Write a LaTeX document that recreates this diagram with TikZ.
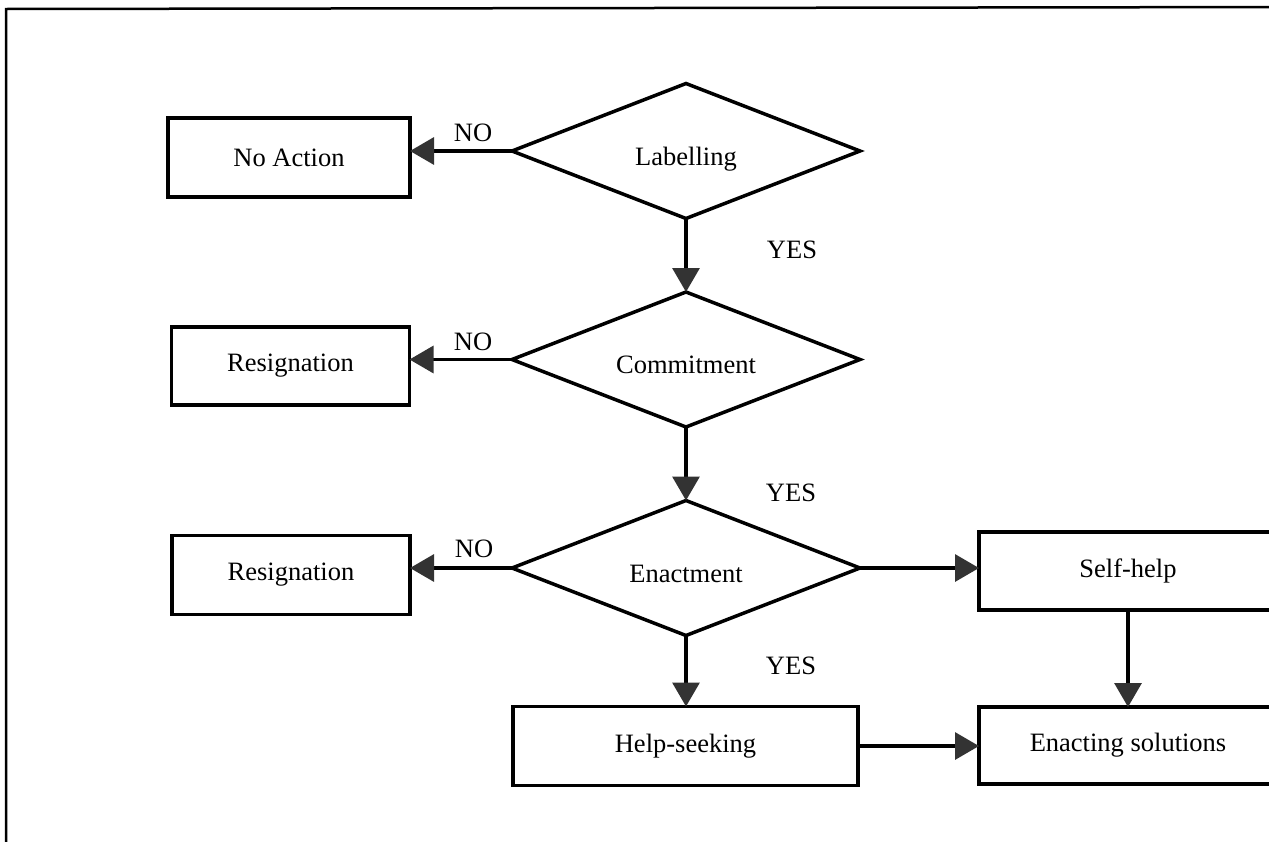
\documentclass[tikz,border=0pt]{standalone}
\usepackage{fontspec}
\setmainfont{Liberation Serif}
\usetikzlibrary{shapes.geometric,arrows.meta}
\begin{document}
\begin{tikzpicture}[x=1pt,y=-1pt,
  txt/.style={font=\fontsize{26.5}{30}\selectfont},
  box/.style={txt, draw, line width=3.5pt, minimum height=79pt, inner sep=0pt, outer sep=0pt},
  dia/.style={txt, diamond, aspect=2.57, draw, line width=3.5pt, minimum width=348pt, minimum height=135pt, inner sep=0pt, outer sep=0pt, text height=28pt, text depth=0pt},
  lbl/.style={txt, inner sep=0pt},
  arr/.style={line width=3.2pt, -{Triangle[length=24pt,width=27pt,color=black!80]}}]
\useasboundingbox (0,0) rectangle (1269,841);
\clip (0,0) rectangle (1269,841);
\fill[white] (0,0) rectangle (1269,841);
\draw[line width=2.5pt] (6,900) -- (6,9) -- (1300,7);
\node[box, minimum width=242pt] (noact) at (289,157.5) {No Action};
\node[box, minimum width=238pt, minimum height=78pt] (res1) at (290.5,366) {Resignation};
\node[box, minimum width=238pt] (res2) at (291,575) {Resignation};
\node[dia] (lab) at (686,151) {Labelling};
\node[dia] (com) at (686,359.5) {Commitment};
\node[dia] (ena) at (686,568) {Enactment};
\node[box, minimum width=345pt] (help) at (685.5,746) {Help-seeking};
\node[box, minimum width=298pt, minimum height=78pt] (self) at (1128,571) {Self-help};
\node[box, minimum width=298pt, minimum height=77pt] (sol) at (1128,745.5) {Enacting solutions};
\draw[arr] (lab.west) -- (lab.west -| noact.east);
\draw[arr] (lab.south) -- (com.north);
\draw[arr] (com.west) -- (com.west -| res1.east);
\draw[arr] (com.south) -- (ena.north);
\draw[arr] (ena.west) -- (ena.west -| res2.east);
\draw[arr] (ena.east) -- (ena.east -| self.west);
\draw[arr] (ena.south) -- (ena.south |- help.north);
\draw[arr] (self.south) -- (sol.north);
\draw[arr] (help.east) -- (help.east -| sol.west);
\node[lbl] (no1) at (473,133) {NO};
\node[lbl] (no2) at (473,342) {NO};
\node[lbl] (no3) at (474,549) {NO};
\node[lbl] (yes1) at (792,250) {YES};
\node[lbl] (yes2) at (791,493) {YES};
\node[lbl] (yes3) at (791,666) {YES};
\end{tikzpicture}
\end{document}
